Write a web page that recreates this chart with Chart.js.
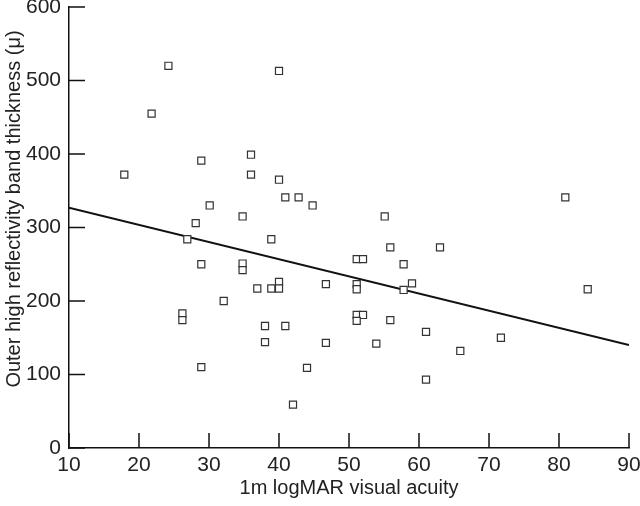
<!DOCTYPE html>
<html>
<head>
<meta charset="utf-8">
<script src="https://cdn.jsdelivr.net/npm/chart.js@4.4.1/dist/chart.umd.min.js"></script>
<style>
  html, body { margin: 0; padding: 0; background: #fff; }
</style>
</head>
<body>
<canvas id="chart" width="640" height="506"></canvas>
<script>
// visual acuity (x) vs band thickness (y)
const acuity = [24.2, 40.0, 21.8, 28.9, 36.0, 17.9, 36.0, 40.0, 40.9, 42.8,
  44.8, 30.1, 28.1, 34.8, 80.9, 55.1, 26.9, 38.9, 28.9, 34.8,
  34.8, 51.1, 52.0, 40.0, 40.0, 36.9, 38.9, 46.7, 51.1, 51.1,
  32.1, 26.2, 26.2, 51.1, 52.0, 51.1, 38.0, 40.9, 38.0, 46.7,
  28.9, 44.0, 42.0, 55.9, 63.0, 57.8, 59.0, 57.8, 84.1, 55.9,
  61.0, 53.9, 71.7, 65.9, 61.0];
const thickness = [520, 513, 455, 391, 399, 372, 372, 365, 341, 341,
  330, 330, 306, 315, 341, 315, 284, 284, 250, 251,
  242, 257, 257, 226, 217, 217, 217, 223, 223, 216,
  200, 183, 174, 181, 181, 173, 166, 166, 144, 143,
  110, 109, 59, 273, 273, 250, 224, 215, 216, 174,
  158, 142, 150, 132, 93];

// regression line end points
const fitX = [10, 90];
const fitY = [327, 140];

const xTicks = [10, 20, 30, 40, 50, 60, 70, 80, 90];
const yTicks = [0, 100, 200, 300, 400, 500, 600];

const xTitle = "1m logMAR visual acuity";
const yTitle = "Outer high reflectivity band thickness (μ)";

const FONT = "'Liberation Sans', Arial, sans-serif";

const points = acuity.map((x, i) => ({ x, y: thickness[i] }));
const fit = fitX.map((x, i) => ({ x, y: fitY[i] }));

// ticks drawn inward from the axis lines, plus the rotated y title
const axisExtras = {
  id: "axisExtras",
  afterDraw(chart) {
    const { ctx, scales: { x, y } } = chart;
    ctx.save();
    ctx.strokeStyle = "#111";
    ctx.lineWidth = 1.5;
    ctx.beginPath();
    xTicks.forEach(v => {
      const px = x.getPixelForValue(v);
      ctx.moveTo(px, y.bottom);
      ctx.lineTo(px, y.bottom - 15);
    });
    yTicks.forEach(v => {
      const py = y.getPixelForValue(v);
      ctx.moveTo(x.left, py);
      ctx.lineTo(x.left + 16, py);
    });
    ctx.stroke();

    ctx.translate(14, 209);
    ctx.rotate(-Math.PI / 2);
    ctx.fillStyle = "#222";
    ctx.font = "20px " + FONT;
    ctx.textAlign = "center";
    ctx.textBaseline = "middle";
    ctx.fillText(yTitle, 0, 0);
    ctx.restore();
  }
};

new Chart(document.getElementById("chart"), {
  type: "scatter",
  data: {
    datasets: [
      {
        data: points,
        pointStyle: "rect",
        pointRadius: 5,
        borderColor: "#333",
        backgroundColor: "#fff",
        borderWidth: 1.2,
        order: 1
      },
      {
        type: "line",
        data: fit,
        borderColor: "#111",
        borderWidth: 2,
        pointRadius: 0,
        fill: false,
        order: 2
      }
    ]
  },
  options: {
    responsive: false,
    animation: false,
    layout: { padding: { top: 7, right: 11, left: 0, bottom: 0 } },
    plugins: { legend: { display: false }, tooltip: { enabled: false } },
    scales: {
      x: {
        type: "linear",
        min: 10, max: 90,
        afterBuildTicks: s => { s.ticks = xTicks.map(v => ({ value: v })); },
        afterFit: s => { s.height = 58; s.paddingLeft = 0; s.paddingRight = 0; },
        ticks: { font: { family: FONT, size: 21 }, color: "#222", padding: 5, maxRotation: 0 },
        grid: { drawOnChartArea: false, drawTicks: false },
        border: { color: "#111", width: 1.5 },
        title: { display: true, text: xTitle, color: "#222", font: { family: FONT, size: 20 }, padding: { bottom: 6 } }
      },
      y: {
        min: 0, max: 600,
        afterBuildTicks: s => { s.ticks = yTicks.map(v => ({ value: v })); },
        afterFit: s => { s.width = 69; s.paddingTop = 0; s.paddingBottom = 0; },
        ticks: { font: { family: FONT, size: 21 }, color: "#222", padding: 8 },
        grid: { drawOnChartArea: false, drawTicks: false },
        border: { color: "#111", width: 1.5 }
      }
    }
  },
  plugins: [axisExtras]
});
</script>
</body>
</html>
